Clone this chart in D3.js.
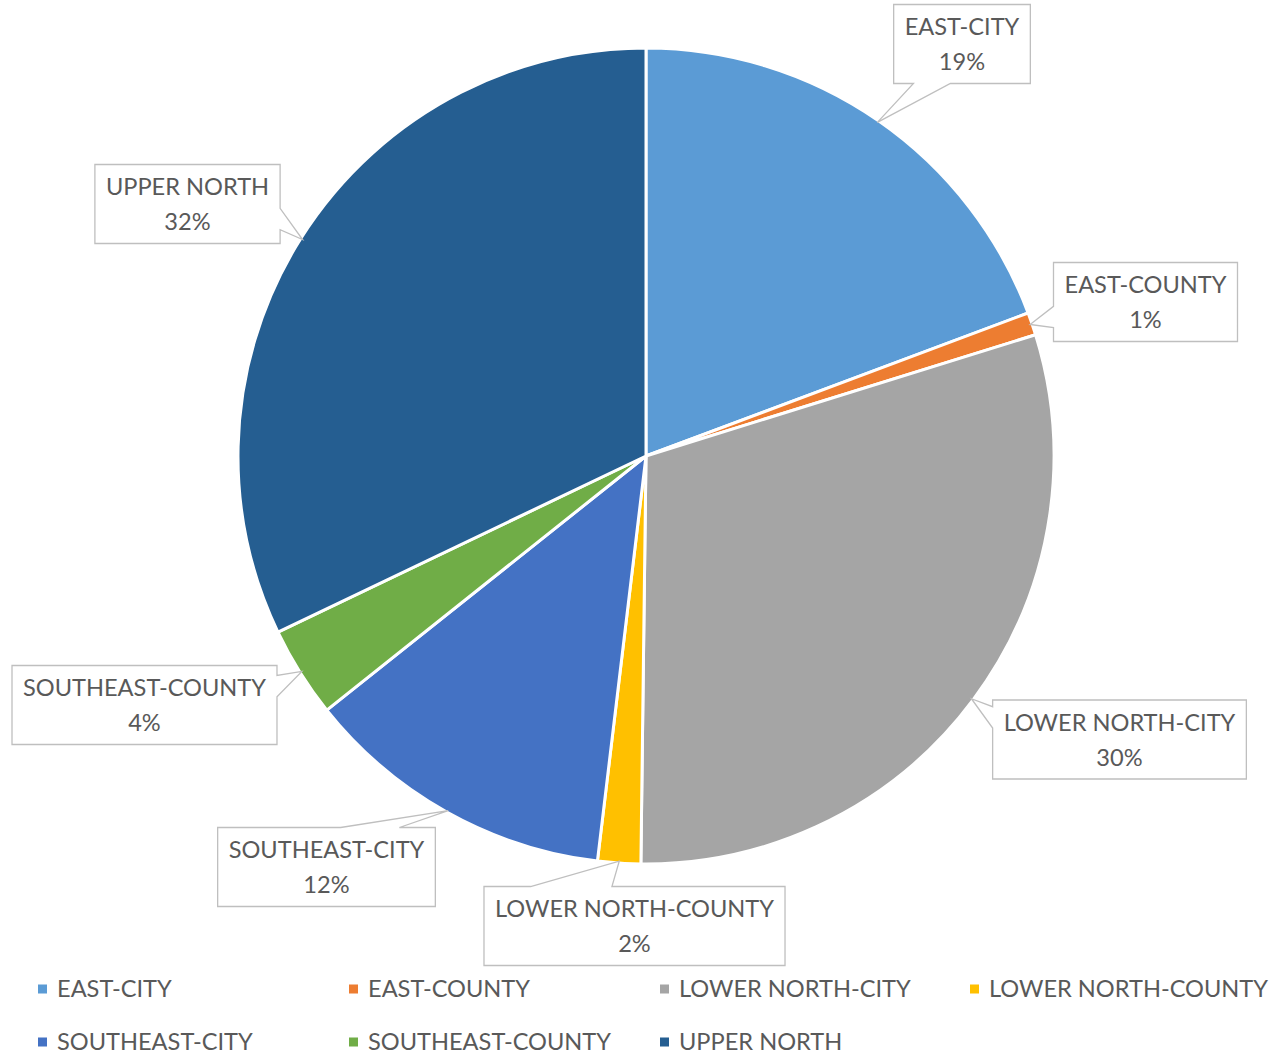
<!DOCTYPE html>
<html>
<head>
<meta charset="utf-8">
<script src="https://cdn.jsdelivr.net/npm/d3@7"></script>
<style>
  html, body { margin: 0; padding: 0; background: #fff; }
  svg { display: block; font-family: Lato, "Open Sans", sans-serif; }
  .callout { fill: #fff; stroke: #bfbfbf; stroke-width: 1.3; stroke-linejoin: miter; }
  .lbl, .legend text { fill: #595959; font-size: 23.6px; }
</style>
</head>
<body>
<div id="chart"></div>
<script>
const regions = ['EAST-CITY', 'EAST-COUNTY', 'LOWER NORTH-CITY', 'LOWER NORTH-COUNTY',
  'SOUTHEAST-CITY', 'SOUTHEAST-COUNTY', 'UPPER NORTH'];
const shares = [19.3, 0.9, 30.0, 1.7, 12.4, 3.6, 32.1];
const colors = ['#5b9bd5', '#ed7d31', '#a5a5a5', '#ffc000', '#4472c4', '#70ad47', '#255e91'];

// callout box centres and where the pointer leaves the box edge (fraction), set by hand
const boxCentres = [[962, 44], [1145.5, 302], [1119.5, 739.5], [634.5, 926],
  [326.5, 867], [144.5, 705], [187.5, 204]];
const wedgeAt = [0.28, 0.69, 0.22, 0.29, 0.70, 0.26, 0.69];

const width = 1278,
  height = 1055,
  cx = 646,
  cy = 456,
  radius = 408,
  boxH = 79;

const total = d3.sum(shares);
const data = regions.map((name, i) => ({
  name, value: shares[i], color: colors[i], box: boxCentres[i], at: wedgeAt[i],
}));

const svg = d3.select('#chart').append('svg')
    .attr('width', width)
    .attr('height', height);

const pie = d3.pie()
    .sort(null)
    .value((d) => d.value);

const arc = d3.arc()
    .innerRadius(0)
    .outerRadius(radius);

const rim = d3.arc()
    .innerRadius(radius - 2)
    .outerRadius(radius - 2);

const arcs = pie(data);

const g = svg.append('g')
    .attr('transform', `translate(${cx},${cy})`);

g.selectAll('path')
    .data(arcs)
  .enter().append('path')
    .attr('d', arc)
    .attr('fill', (d) => d.data.color)
    .attr('stroke', '#fff')
    .attr('stroke-width', 3)
    .attr('stroke-linejoin', 'round');

// Callouts: box outline with a wedge pointing to the slice.
function calloutPath(x0, y0, x1, y1, tx, ty, at) {
  const over = {
    top: y0 - ty, bottom: ty - y1, left: x0 - tx, right: tx - x1,
  };
  const side = Object.keys(over).reduce((a, b) => (over[b] > over[a] ? b : a));
  const base = (s, e) => {
    const len = e - s, w = len * 0.27, c = s + len * at;
    return [c - w / 2, c + w / 2];
  };
  const p = [];
  p.push([x0, y0]);
  if (side === 'top') { const [a, b] = base(x0, x1); p.push([a, y0], [tx, ty], [b, y0]); }
  p.push([x1, y0]);
  if (side === 'right') { const [a, b] = base(y0, y1); p.push([x1, a], [tx, ty], [x1, b]); }
  p.push([x1, y1]);
  if (side === 'bottom') { const [a, b] = base(x0, x1); p.push([b, y1], [tx, ty], [a, y1]); }
  p.push([x0, y1]);
  if (side === 'left') { const [a, b] = base(y0, y1); p.push([x0, b], [tx, ty], [x0, a]); }
  return 'M' + p.map((q) => q.join(',')).join('L') + 'Z';
}

const labels = svg.append('g').selectAll('g')
    .data(arcs)
  .enter().append('g');

labels.each(function (d) {
  const lab = d3.select(this);
  const [bx, by] = d.data.box;
  const path = lab.append('path').attr('class', 'callout');
  const t1 = lab.append('text')
      .attr('class', 'lbl')
      .attr('x', bx)
      .attr('y', by - 9)
      .attr('text-anchor', 'middle')
      .text(d.data.name);
  lab.append('text')
      .attr('class', 'lbl')
      .attr('x', bx)
      .attr('y', by + 26)
      .attr('text-anchor', 'middle')
      .text(`${Math.round(d.data.value / total * 100)}%`);
  const tw = t1.node().getComputedTextLength();
  const bw = tw + 22;
  const [tx, ty] = rim.centroid(d);
  path.attr('d', calloutPath(bx - bw / 2, by - boxH / 2, bx + bw / 2, by + boxH / 2,
    cx + tx, cy + ty, d.data.at));
});

// Legend, four per row
const legendCols = [38, 349, 660, 970];
const legendRows = [989, 1042];

const legend = svg.append('g')
    .attr('class', 'legend')
  .selectAll('g')
    .data(data)
  .enter().append('g')
    .attr('transform', (d, i) => `translate(${legendCols[i % 4]},${legendRows[Math.floor(i / 4)]})`);

legend.append('rect')
    .attr('x', 0)
    .attr('y', -4.5)
    .attr('width', 9)
    .attr('height', 9)
    .attr('fill', (d) => d.color);

legend.append('text')
    .attr('x', 19)
    .attr('y', 8)
    .text((d) => d.name);
</script>
</body>
</html>
